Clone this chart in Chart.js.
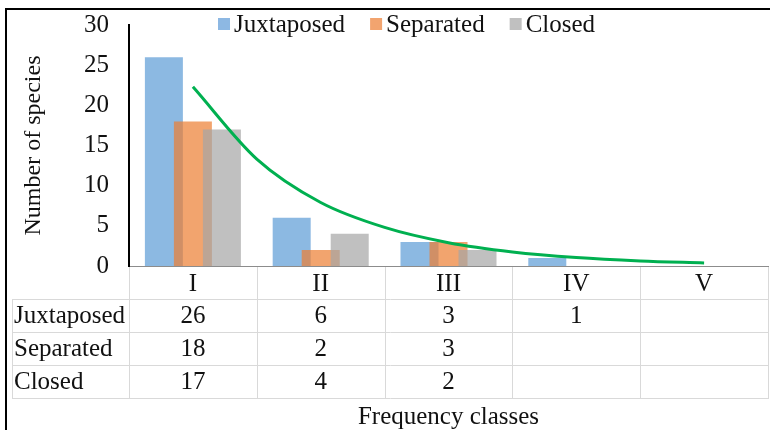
<!DOCTYPE html>
<html><head><meta charset="utf-8">
<script src="https://cdn.jsdelivr.net/npm/chart.js@4.4.1/dist/chart.umd.min.js"></script>
<style>html,body{margin:0;padding:0;background:#fff}#wrap{width:770px;height:430px;position:relative}</style>
</head><body><div id="wrap"><canvas id="c" width="770" height="430"></canvas></div>
<script>
// ---- data ----
const categories = ['I', 'II', 'III', 'IV', 'V'];
const seriesNames = ['Juxtaposed', 'Separated', 'Closed'];
const juxtaposed = [26, 6, 3, 1, null];
const separated = [18, 2, 3, null, null];
const closed = [17, 4, 2, null, null];
// exponential trendline at whole and half class positions
const trendPos = [0, 0.5, 1, 1.5, 2, 2.5, 3, 3.5, 4];
const trendVal = [22.3, 13.3, 7.9, 4.8, 2.9, 1.75, 1.05, 0.63, 0.38];
const yTicks = [0, 5, 10, 15, 20, 25, 30];

// ---- styles ----
const FONT_FAMILY = "'Liberation Serif', 'Times New Roman', serif";
const FS = 25;
const TXT = '#111111';
const barColors = ['rgba(91,155,213,0.7)', 'rgba(237,125,49,0.7)', 'rgba(165,165,165,0.7)'];
const legendSwatch = ['#8DB8E3', '#F2A46F', '#C0C0C0'];
const seriesValues = [juxtaposed, separated, closed];

const font = { family: FONT_FAMILY, size: FS };
const toPoints = arr => arr.map((v, i) => ({ x: i, y: v }));

// draw datasets in index order so later series sit on top of earlier ones
const orderPlugin = {
  id: 'orderPlugin',
  beforeDatasetsDraw(chart) {
    const ctx = chart.ctx, a = chart.chartArea;
    ctx.save();
    ctx.beginPath();
    ctx.rect(a.left, a.top - 5, a.right - a.left, a.bottom - a.top + 5);
    ctx.clip();
    chart.data.datasets.forEach((d, i) => {
      if (chart.isDatasetVisible(i)) chart.getDatasetMeta(i).controller.draw();
    });
    ctx.restore();
    return false;
  }
};

const tablePlugin = {
  id: 'tablePlugin',
  afterDraw(chart) {
    const ctx = chart.ctx;
    const xs = chart.scales.x;
    const a = chart.chartArea;
    const n = categories.length;
    const edges = [];
    for (let i = 0; i <= n; i++) edges.push(xs.getPixelForValue(i - 0.5));
    const top = a.bottom;
    const rowH = 33;
    const tableLeft = 12;
    const nRows = seriesNames.length;
    ctx.save();
    ctx.strokeStyle = '#d9d9d9';
    ctx.lineWidth = 1;
    ctx.beginPath();
    edges.forEach(x => {
      const xx = Math.round(x) + 0.5;
      ctx.moveTo(xx, top + 1);
      ctx.lineTo(xx, top + rowH * (nRows + 1));
    });
    ctx.moveTo(tableLeft + 0.5, top + rowH);
    ctx.lineTo(tableLeft + 0.5, top + rowH * (nRows + 1));
    for (let k = 1; k <= nRows + 1; k++) {
      const yy = Math.round(top + rowH * k) + 0.5;
      ctx.moveTo(tableLeft, yy);
      ctx.lineTo(Math.round(edges[n]) + 1, yy);
    }
    ctx.stroke();

    ctx.fillStyle = TXT;
    ctx.font = FS + 'px ' + FONT_FAMILY;
    ctx.textBaseline = 'middle';
    seriesNames.forEach((name, r) => {
      const cy = top + rowH * (r + 1.5) + 1;
      ctx.textAlign = 'left';
      ctx.fillText(name, tableLeft + 2, cy);
      ctx.textAlign = 'center';
      seriesValues[r].forEach((v, i) => {
        if (v !== null && v !== undefined) ctx.fillText(String(v), xs.getPixelForValue(i), cy);
      });
    });

    // legend
    let x = 218;
    const ly = 24;
    ctx.textAlign = 'left';
    seriesNames.forEach((name, i) => {
      ctx.fillStyle = legendSwatch[i];
      ctx.fillRect(x, ly - 6, 12, 12);
      ctx.fillStyle = TXT;
      ctx.fillText(name, x + 16, ly + 1);
      x += 16 + ctx.measureText(name).width + 25;
    });

    // outer frame (top and left edges)
    ctx.fillStyle = '#000';
    ctx.fillRect(5, 8, 765, 2);
    ctx.fillRect(5, 8, 2, 422);
    ctx.restore();
  }
};

new Chart(document.getElementById('c'), {
  data: {
    datasets: [
      { type: 'bar', label: seriesNames[0], data: toPoints(juxtaposed), backgroundColor: barColors[0] },
      { type: 'bar', label: seriesNames[1], data: toPoints(separated), backgroundColor: barColors[1] },
      { type: 'bar', label: seriesNames[2], data: toPoints(closed), backgroundColor: barColors[2] },
      { type: 'line', label: 'Trend',
        data: trendPos.map((p, i) => ({ x: p, y: trendVal[i] })),
        borderColor: '#00B050', borderWidth: 3,
        pointRadius: 0, fill: false, cubicInterpolationMode: 'monotone' }
    ]
  },
  options: {
    responsive: false,
    animation: false,
    devicePixelRatio: 1,
    layout: { padding: { top: 25, right: 2, bottom: 0, left: 0 } },
    datasets: { bar: { categoryPercentage: 0.681, barPercentage: 1.31 } },
    plugins: { legend: { display: false }, tooltip: { enabled: false } },
    scales: {
      x: {
        type: 'linear',
        offset: false,
        min: -0.5, max: categories.length - 0.5,
        afterBuildTicks(s) { s.ticks = categories.map((c, i) => ({ value: i })); },
        grid: { display: false, drawTicks: false, offset: false },
        border: { display: true, color: '#8c8c8c', width: 1 },
        ticks: { font, color: TXT, padding: 3, callback: v => categories[v] },
        title: { display: true, text: 'Frequency classes', font: { family: FONT_FAMILY, size: FS, lineHeight: 1 }, color: TXT, padding: { top: 0, bottom: 0 } },
        afterFit(s) { s.height = 164; s.paddingLeft = 0; s.paddingRight = 0; }
      },
      y: {
        min: 0, max: 30,
        afterBuildTicks(s) { s.ticks = yTicks.map(v => ({ value: v })); },
        grid: { display: false, drawTicks: false },
        border: { display: true, color: '#000', width: 2 },
        ticks: { font, color: TXT, padding: 20 },
        title: { display: true, text: 'Number of species', font: { family: FONT_FAMILY, size: 24 }, color: TXT, padding: { top: 19, bottom: 0 } },
        afterFit(s) { s.width = 129; s.paddingTop = 0; s.paddingBottom = 0; }
      }
    }
  },
  plugins: [orderPlugin, tablePlugin]
});
</script>
</body></html>
